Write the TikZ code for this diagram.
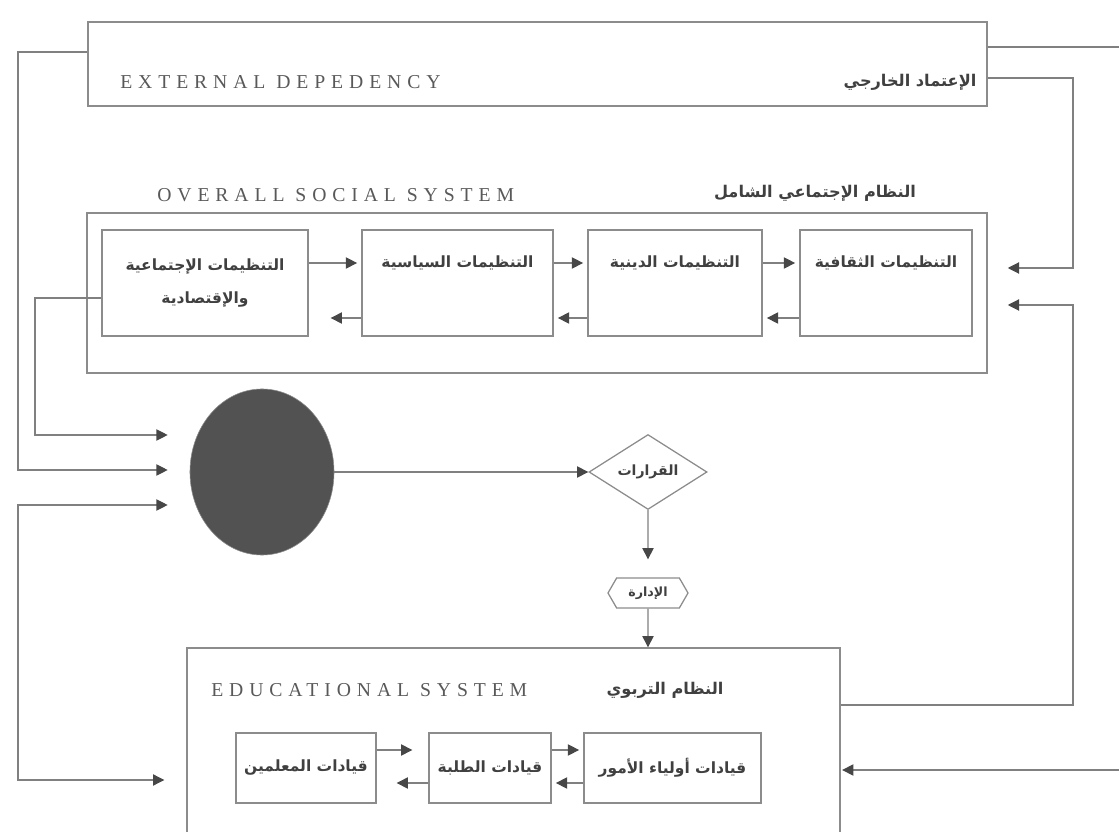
\documentclass[tikz,border=0pt]{standalone}
\usepackage{fontspec}
\setmainfont{Liberation Serif}
\newfontfamily\arabicfont[Script=Arabic]{DejaVu Sans}
\newfontfamily\capsfont[LetterSpace=30]{Liberation Serif}
\TeXXeTstate=1
\newcommand\ara[1]{{\arabicfont\beginR #1\endR}}
\usetikzlibrary{arrows.meta,positioning,shapes.geometric,shapes.symbols}

\begin{document}
\begin{tikzpicture}[x=0.025cm,y=-0.025cm,
  ln/.style={draw=black!50,line width=.8pt},
  ar/.style={ln,-{Triangle[length=8pt,width=8pt,color=black!72]},shorten >=3pt},
  grp/.style={draw=black!45,line width=.9pt,inner sep=0pt},
  box/.style={grp,font=\bfseries\fontsize{11}{13}\selectfont,text=black!75,align=center},
  upbox/.style={box,text height=9.5mm,text depth=17mm},
  ttl/.style={font=\capsfont\fontsize{14}{16}\selectfont,text=black!65,inner sep=0pt,anchor=west},
  atl/.style={font=\bfseries\fontsize{11.5}{13}\selectfont,text=black!75,inner sep=0pt},
  blob/.style={ellipse,fill=black!68,draw=black!45,minimum width=3.6cm,minimum height=4.15cm},
  dia/.style={diamond,draw=black!45,line width=.9pt,minimum width=2.95cm,minimum height=1.8cm,inner sep=0pt,font=\bfseries\normalsize,text=black!75},
  hexa/.style={signal,signal to=west and east,signal pointer angle=120,draw=black!45,line width=.9pt,minimum width=2cm,minimum height=.75cm,inner sep=1pt,font=\bfseries\small,text=black!75}]
  \useasboundingbox (0,0) rectangle (1119,832);
  \clip (0,0) rectangle (1119,832);
  \node[grp,minimum width=22.475cm,minimum height=2.1cm] (ext) at (537.5,64) {};
  \node[ttl] (extL) at (120,82) {EXTERNAL DEPEDENCY};
  \node[atl] (extA) at (910,82) {\ara{الإعتماد الخارجي}};
  \node[grp,minimum width=22.5cm,minimum height=4cm] (soc) at (537,293) {};
  \node[ttl] (socL) at (157,195) {OVERALL SOCIAL SYSTEM};
  \node[atl] (socA) at (815,193) {\ara{النظام الإجتماعي الشامل}};
  \node[box,minimum width=5.15cm,minimum height=2.65cm] (b1) at (205,283) {\ara{التنظيمات الإجتماعية}\\[10pt]\ara{والإقتصادية}};
  \node[upbox,minimum width=4.775cm] (b2) at (457.5,283) {\ara{التنظيمات السياسية}};
  \node[upbox,minimum width=4.35cm] (b3) at (675,283) {\ara{التنظيمات الدينية}};
  \node[upbox,minimum width=4.3cm] (b4) at (886,283) {\ara{التنظيمات الثقافية}};
  \draw[ar] ([yshift=5mm]b1.east) -- ([yshift=5mm]b2.west); \draw[ar,shorten >=5.5mm] ([yshift=-8.75mm]b2.west) -- ([yshift=-8.75mm]b1.east);
  \draw[ar] ([yshift=5mm]b2.east) -- ([yshift=5mm]b3.west); \draw[ar] ([yshift=-8.75mm]b3.west) -- ([yshift=-8.75mm]b2.east);
  \draw[ar] ([yshift=5mm]b3.east) -- ([yshift=5mm]b4.west); \draw[ar] ([yshift=-8.75mm]b4.west) -- ([yshift=-8.75mm]b3.east);
  \node[blob] (circ) at (262,472) {};
  \node[dia] (dia) at (648,472) {\ara{القرارات}};
  \node[hexa] (adm) at (648,593) {\ara{الإدارة}};
  \node[grp,minimum width=16.325cm,minimum height=4.8cm] (edu) at (513.5,744) {};
  \node[ttl] (eduL) at (211,690) {EDUCATIONAL SYSTEM};
  \node[atl] (eduA) at (665,690) {\ara{النظام التربوي}};
  \node[box,minimum width=3.5cm,minimum height=1.75cm] (eA) at (306,768) {\ara{قيادات المعلمين}};
  \node[box,minimum width=3.05cm,minimum height=1.75cm] (eB) at (490,768) {\ara{قيادات الطلبة}};
  \node[box,minimum width=4.425cm,minimum height=1.75cm] (eC) at (672.5,768) {\ara{قيادات أولياء الأمور}};
  \draw[ar,shorten >=4mm] ([yshift=4.5mm]eA.east) -- ([yshift=4.5mm]eB.west); \draw[ar,shorten >=5mm] ([yshift=-3.75mm]eB.west) -- ([yshift=-3.75mm]eA.east);
  \draw[ar] ([yshift=4.5mm]eB.east) -- ([yshift=4.5mm]eC.west); \draw[ar] ([yshift=-3.75mm]eC.west) -- ([yshift=-3.75mm]eB.east);
  \draw[ar,shorten >=0pt] (circ) -- (dia);
  \draw[ar,shorten >=4.5mm] (dia) -- (adm);
  \draw[ar,shorten >=0pt] (adm) -- (adm |- edu.north);
  \coordinate (rt) at (1073,268); \coordinate (rb) at (1073,305);
  \coordinate (tr) at (1119,47); \coordinate (br) at (1119,770);
  \draw[ln] (tr -| ext.east) -- (tr);
  \draw[ar,shorten >=5mm] ([yshift=-3.5mm]ext.east) -| (rt) -- (rt -| soc.east);
  \draw[ar,shorten >=5mm] ([yshift=9.75mm]edu.east) -| (rb) -- (rb -| soc.east);
  \draw[ar,shorten >=1pt] (br) -- (br -| edu.east);
  \coordinate (la) at (18,470); \coordinate (lb) at (35,435);
  \coordinate (lc) at (18,505); \coordinate (ld) at (18,780);
  \draw[ar,shorten >=5.5mm] ([yshift=3mm]ext.west) -| (la) -- (la -| circ.west);
  \draw[ar,shorten >=5.5mm] ([yshift=-3.75mm]b1.west) -| (lb) -- (lb -| circ.west);
  \draw[ar,{Triangle[length=8pt,width=8pt,color=black!72]}-{Triangle[length=8pt,width=8pt,color=black!72]},shorten <=5.5mm,shorten >=5.5mm] (lc -| circ.west) -- (lc) -- (ld) -- (ld -| edu.west);
\end{tikzpicture}
\end{document}
